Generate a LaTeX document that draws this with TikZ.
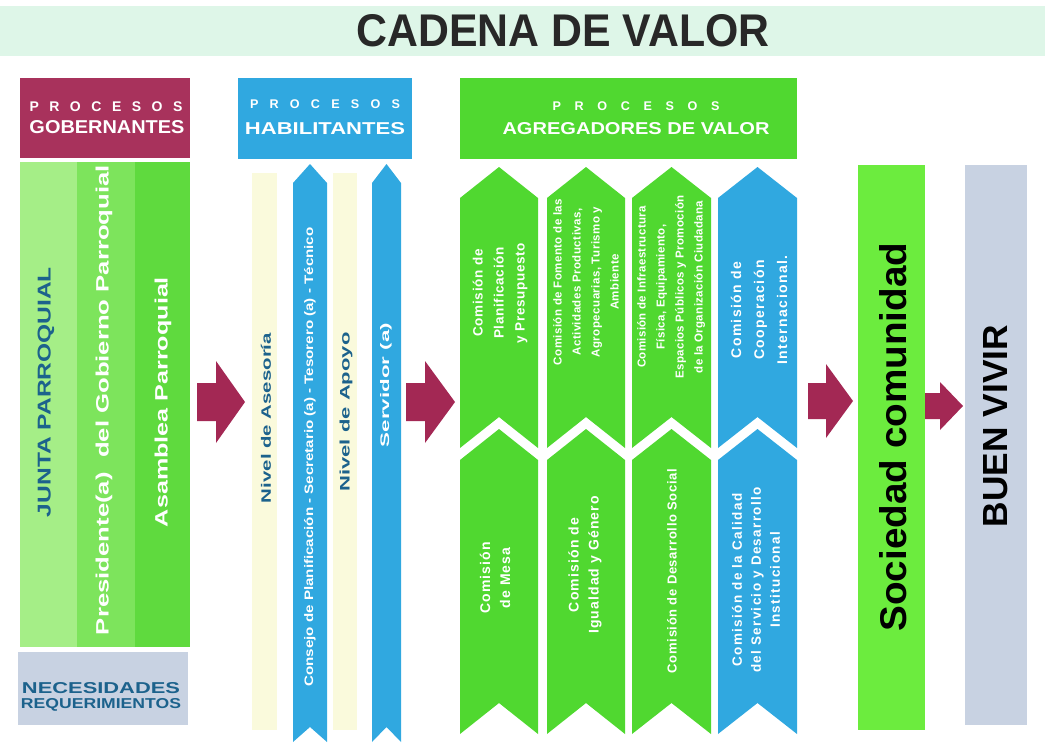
\documentclass[tikz,border=0pt]{standalone}
\usepackage{fontspec}
\setmainfont{Liberation Sans}
\usepackage{graphicx}
\definecolor{maroonH}{RGB}{168,50,92}
\definecolor{arrowC}{RGB}{163,40,84}
\definecolor{blueP}{RGB}{48,168,224}
\definecolor{greenP}{RGB}{80,216,48}
\definecolor{greenA}{RGB}{165,238,135}
\definecolor{greenB}{RGB}{125,228,92}
\definecolor{greenC}{RGB}{95,218,62}
\definecolor{greenS}{RGB}{108,236,62}
\definecolor{grayB}{RGB}{200,210,226}
\definecolor{paleY}{RGB}{250,250,220}
\definecolor{tealT}{RGB}{28,98,140}
\definecolor{bandG}{RGB}{222,246,232}
\definecolor{titleC}{RGB}{40,40,40}
\newcommand{\fitbox}[3]{\resizebox{#1pt}{#2pt}{#3}}
\newcommand{\procesos}[1]{\makebox[#1pt]{P\hfill R\hfill O\hfill C\hfill E\hfill S\hfill O\hfill S}}
% chevron: x1, x2, apex top, shoulder, bottom sides, notch apex, colour
\newcommand{\chev}[7]{\fill[#7] (#1,#4) -- ({(#1+#2)/2},#3) -- (#2,#4) -- (#2,#5) -- ({(#1+#2)/2},#6) -- (#1,#5) -- cycle;}
% block arrow: body left, head base, tip, centre y, body half, head half
\newcommand{\barrow}[6]{\fill[blockarrow] (#1,{#4-#5}) -- (#2,{#4-#5}) -- (#2,{#4-#6}) -- (#3,#4) -- (#2,{#4+#6}) -- (#2,{#4+#5}) -- (#1,{#4+#5}) -- cycle;}
\begin{document}
\begin{tikzpicture}[x=1pt,y=-1pt,
  lbl/.style={inner sep=0pt,outer sep=0pt},
  vlbl/.style={lbl,rotate=90},
  hdr/.style={lbl,text=white},
  chevtxt/.style={lbl,rotate=90,align=center,text=white},
  blockarrow/.style={fill=arrowC},
]
\useasboundingbox (0,0) rectangle (1045,745);
% title band
\fill[bandG] (0,6) rectangle (1045,56);
\node[lbl,text=titleC] (title) at (563,31) {\fitbox{413}{32}{\bfseries CADENA DE VALOR}};

% ---------- Procesos gobernantes ----------
\fill[maroonH] (20,78) rectangle (190,158);
\node[hdr,font=\fontsize{14}{14}\selectfont\bfseries] (gobP) at (106,107) {\procesos{153}};
\node[hdr] (gobT) at (107,127) {\fitbox{155}{13}{\bfseries GOBERNANTES}};
\fill[greenA] (20,162) rectangle (77,647);
\fill[greenB] (77,162) rectangle (135,647);
\fill[greenC] (135,162) rectangle (190,647);
\node[vlbl,text=tealT] (junta) at (46,392) {\fitbox{250}{13}{\bfseries JUNTA PARROQUIAL}};
\node[vlbl,text=white] (presi) at (104,400) {\fitbox{470}{13}{\bfseries Presidente(a)\ \ del Gobierno Parroquial}};
\node[vlbl,text=white] (asamb) at (163,402) {\fitbox{250}{13}{\bfseries Asamblea Parroquial}};
\fill[grayB] (18,652) rectangle (188,725);
\node[lbl,text=tealT] (neces) at (101,688) {\fitbox{158}{11}{\bfseries NECESIDADES}};
\node[lbl,text=tealT] (reque) at (101,705) {\fitbox{160}{10}{\bfseries REQUERIMIENTOS}};

% ---------- Procesos habilitantes ----------
\fill[blueP] (238,78) rectangle (412,159);
\node[hdr,font=\fontsize{12.6}{13}\selectfont\bfseries] (habP) at (325,104) {\procesos{150}};
\node[hdr] (habT) at (325,129) {\fitbox{160}{12}{\bfseries HABILITANTES}};
\fill[paleY] (252,173) rectangle (277,730);
\fill[paleY] (333,173) rectangle (357,730);
\chev{293}{327}{164}{183}{742}{727}{blueP}
\chev{372}{401}{164}{183}{742}{727}{blueP}
\node[vlbl,text=tealT] (asesor) at (266,418) {\fitbox{170}{10}{\bfseries Nivel de Asesoría}};
\node[vlbl,text=tealT] (apoyo) at (346,412) {\fitbox{159}{10}{\bfseries Nivel de Apoyo}};
\node[vlbl,text=white] (consejo) at (310,457) {\fitbox{459}{9}{\bfseries Consejo de Planificación - Secretario (a) - Tesorero (a) - Técnico}};
\node[vlbl,text=white] (servi) at (386,385) {\fitbox{124}{9}{\bfseries Servidor (a)}};

% ---------- Procesos agregadores de valor ----------
\fill[greenP] (460,78) rectangle (797,159);
\node[hdr,font=\fontsize{12.6}{13}\selectfont\bfseries] (agrP) at (636,106) {\procesos{167}};
\node[hdr] (agrT) at (636,129) {\fitbox{267}{12}{\bfseries AGREGADORES DE VALOR}};
\chev{460}{538}{167}{198}{448}{417}{greenP}
\chev{547}{625}{167}{198}{448}{417}{greenP}
\chev{632}{711}{167}{198}{448}{417}{greenP}
\chev{718}{797}{167}{198}{448}{417}{blueP}
\chev{460}{538}{429}{460}{734}{703}{greenP}
\chev{547}{625}{429}{460}{734}{703}{greenP}
\chev{632}{711}{429}{460}{734}{703}{greenP}
\chev{718}{797}{429}{460}{734}{703}{blueP}
\node[chevtxt,font=\fontsize{13.5}{21}\selectfont\bfseries\addfontfeature{LetterSpace=5}] (c1a) at (500,293) {Comisión de\\Planificación\\y Presupuesto};
\node[chevtxt,font=\fontsize{11.5}{19}\selectfont\bfseries\addfontfeature{LetterSpace=4}] (c2a) at (586,282) {Comisión de Fomento de las\\Actividades Productivas,\\Agropecuarias, Turismo y\\Ambiente};
\node[chevtxt,font=\fontsize{11.5}{19}\selectfont\bfseries\addfontfeature{LetterSpace=3}] (c3a) at (671,287) {Comisión de Infraestructura\\Física, Equipamiento,\\Espacios Públicos y Promoción\\de la Organización Ciudadana};
\node[chevtxt,font=\fontsize{14}{23}\selectfont\bfseries\addfontfeature{LetterSpace=10}] (c4a) at (759,310) {Comisión de\\Cooperación\\Internacional.};
\node[chevtxt,font=\fontsize{14}{20}\selectfont\bfseries\addfontfeature{LetterSpace=8}] (c1b) at (495,578) {Comisión\\de Mesa};
\node[chevtxt,font=\fontsize{14}{20}\selectfont\bfseries\addfontfeature{LetterSpace=8}] (c2b) at (585,565) {Comisión de\\Igualdad y Género};
\node[chevtxt,font=\fontsize{13}{20}\selectfont\bfseries\addfontfeature{LetterSpace=5}] (c3b) at (672,571) {Comisión de Desarrollo Social};
\node[chevtxt,font=\fontsize{13.5}{19}\selectfont\bfseries\addfontfeature{LetterSpace=10}] (c4b) at (756,580) {Comisión de la Calidad\\del Servicio y Desarrollo\\Institucional};

% ---------- Outcomes ----------
\fill[greenS] (858,165) rectangle (925,730);
\node[vlbl,text=black] (socie) at (893,437) {\fitbox{389}{27}{\bfseries Sociedad comunidad}};
\fill[grayB] (965,165) rectangle (1027,725);
\node[vlbl,text=black] (buen) at (996,426) {\fitbox{202}{24}{\bfseries BUEN VIVIR}};

% ---------- block arrows ----------
\barrow{197}{216}{245}{402}{19}{41}
\barrow{406}{425}{455}{402}{19}{41}
\barrow{808}{826}{853}{401}{18}{37}
\barrow{925}{940}{963}{406}{13}{24}
\end{tikzpicture}
\end{document}
